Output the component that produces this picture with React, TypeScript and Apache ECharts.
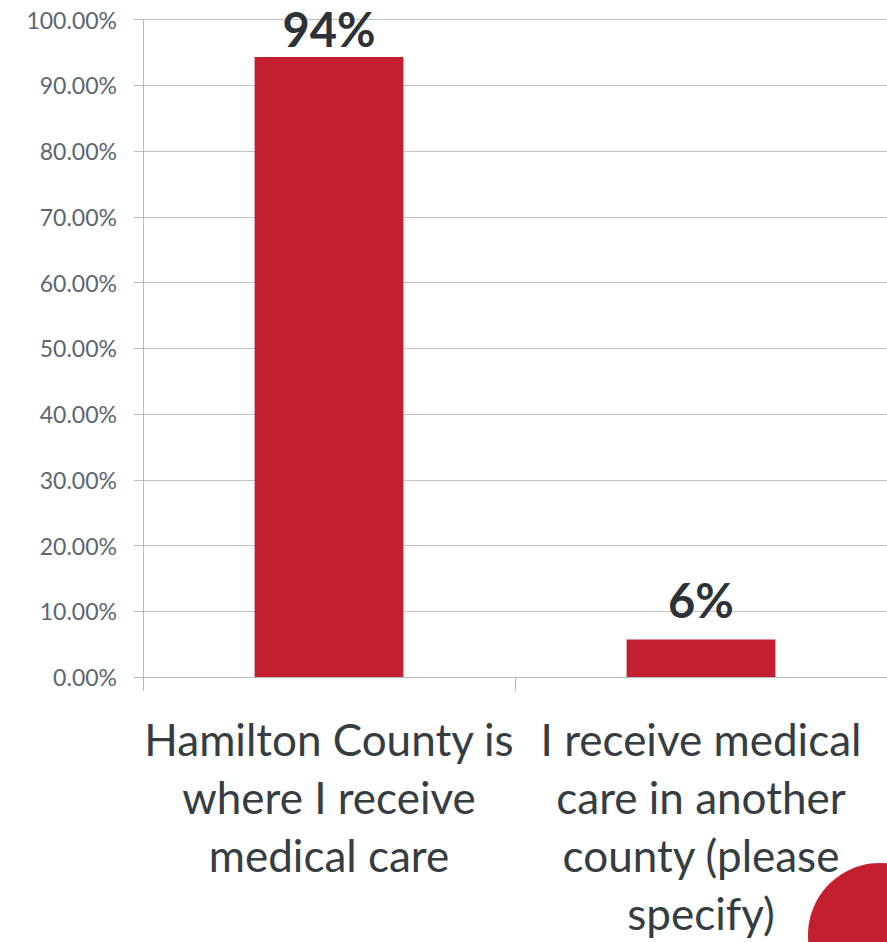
import React, { useEffect, useRef } from "react";
import * as echarts from "echarts";

const categories = [
  "Hamilton County is\nwhere I receive\nmedical care",
  "I receive medical\ncare in another\ncounty (please\nspecify)",
];
const values = [94.3, 5.7];
const labelDistances = [4, 16];
const yMin = 0;
const yMax = 100;
const yInterval = 10;

export default function App() {
  const ref = useRef<HTMLDivElement>(null);
  useEffect(() => {
    document.body.style.margin = "0";
    document.documentElement.style.overflow = "hidden";
    const chart = echarts.init(ref.current!, null, { renderer: "svg" });
    chart.setOption({
      animation: false,
      backgroundColor: "#ffffff",
      grid: { left: 143, right: 0, top: 19.5, bottom: 262.5, containLabel: false },
      xAxis: {
        type: "category",
        data: categories,
        axisLine: { show: true, lineStyle: { color: "#b7babe", width: 1 } },
        axisTick: { show: true, length: 14, alignWithLabel: false, lineStyle: { color: "#b7babe" } },
        axisLabel: {
          interval: 0,
          margin: 33,
          fontFamily: "Lato",
          fontSize: 44,
          lineHeight: 58,
          color: "#353c42",
          align: "center",
        },
      },
      yAxis: {
        type: "value",
        min: yMin,
        max: yMax,
        interval: yInterval,
        axisLine: { show: true, lineStyle: { color: "#b7babe", width: 1 } },
        axisTick: { show: true, length: 9, lineStyle: { color: "#b7babe" } },
        splitLine: { show: true, lineStyle: { color: "#c0c3c7", width: 1 } },
        axisLabel: {
          margin: 26,
          fontFamily: "Lato",
          fontSize: 23,
          color: "#5b6670",
          formatter: (v: number) => v.toFixed(2) + "%",
        },
      },
      series: [
        {
          type: "bar",
          barWidth: "40%",
          itemStyle: { color: "#c41f31" },
          data: values.map((v, i) => ({
            value: v,
            label: { distance: labelDistances[i] },
          })),
          label: {
            show: true,
            position: "top",
            fontFamily: "Lato",
            fontWeight: "bold",
            fontSize: 47,
            color: "#2d3238",
            formatter: (p: any) => Math.round(p.value) + "%",
          },
        },
      ],
      graphic: [
        {
          type: "circle",
          shape: { cx: 880, cy: 935, r: 72 },
          style: { fill: "#c41f31" },
          z: 100,
        },
      ],
    });
    return () => chart.dispose();
  }, []);
  return <div ref={ref} style={{ width: 887, height: 942 }} />;
}
